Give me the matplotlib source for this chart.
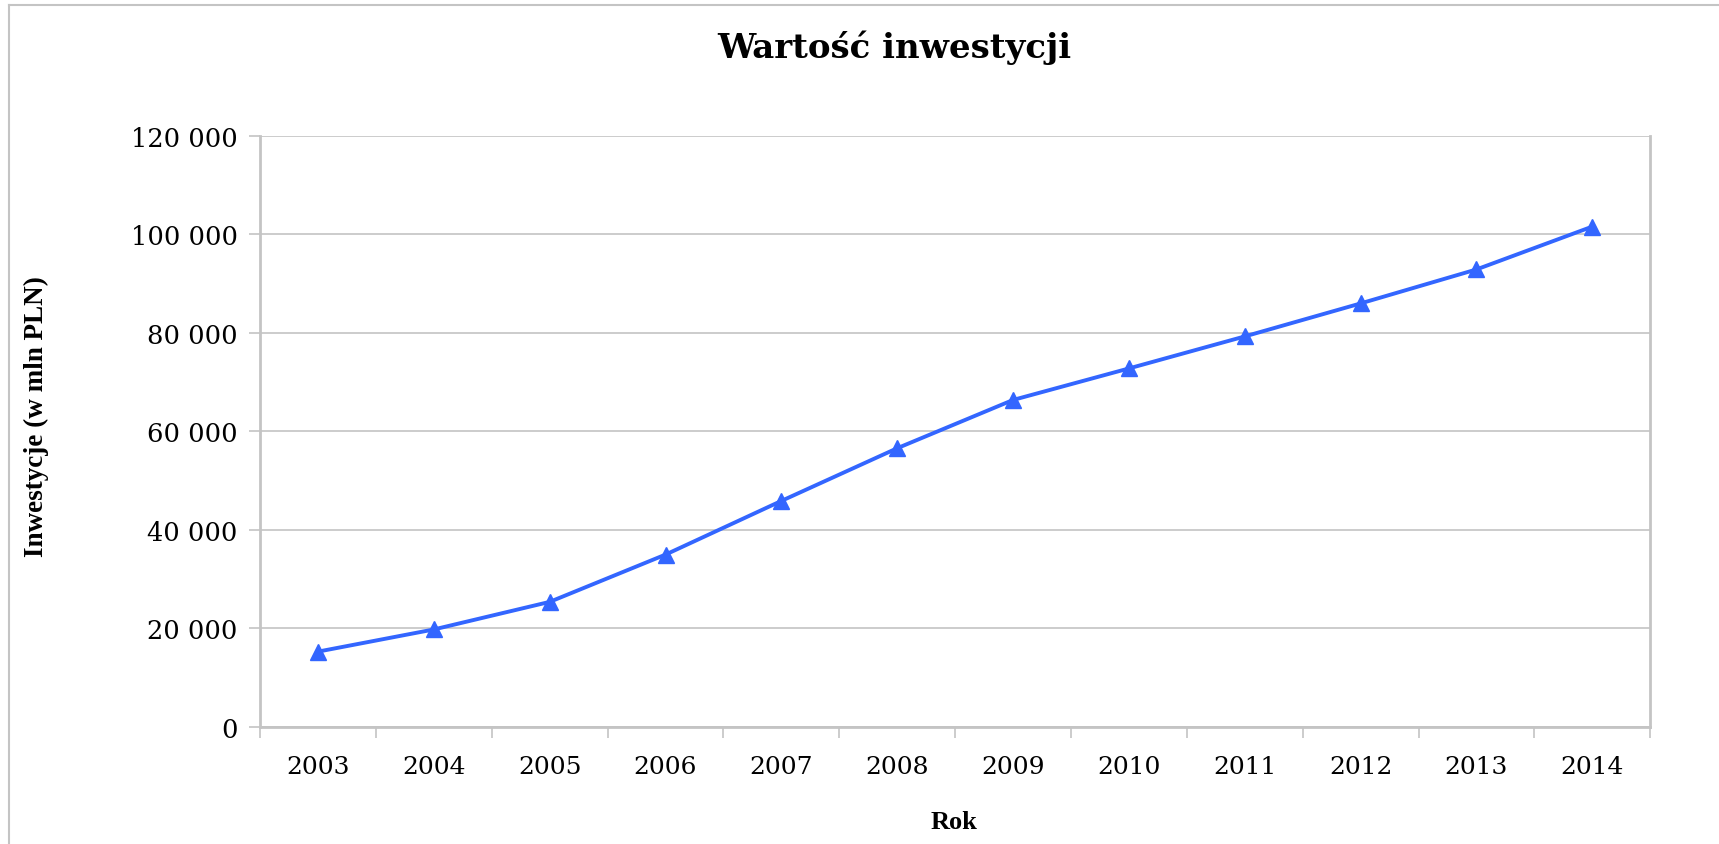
#!/usr/bin/env python3

import matplotlib
matplotlib.use("Agg")
import matplotlib.pyplot as plt
from matplotlib.ticker import FuncFormatter, FixedLocator

# Data
years = ['2003', '2004', '2005', '2006', '2007', '2008',
         '2009', '2010', '2011', '2012', '2013', '2014']
investments = [15300, 19800, 25400, 35000, 45900, 56600,
               66400, 72800, 79300, 86000, 92900, 101600]
y_ticks = [0, 20000, 40000, 60000, 80000, 100000, 120000]

title = 'Wartość inwestycji'
x_label = 'Rok'
y_label = 'Inwestycje (w mln PLN)'

plt.rcParams['font.family'] = ['DejaVu Serif', 'Liberation Serif']

grey = '#c4c4c4'
blue = '#3366ff'

fig = plt.figure(figsize=(17.19, 8.45), dpi=100)
ax = fig.add_axes([0.1513, 0.1385, 0.8087, 0.6994])

x = list(range(len(years)))
ax.plot(x, investments, color=blue, linewidth=2.8, marker='^',
        markersize=12, zorder=3)

ax.set_xlim(-0.5, len(years) - 0.5)
ax.set_ylim(0, 120000)
ax.set_yticks(y_ticks)
ax.yaxis.set_major_formatter(FuncFormatter(lambda v, p: f'{int(v):,}'.replace(',', ' ')))
ax.set_xticks(x)
ax.set_xticklabels(years)
ax.xaxis.set_minor_locator(FixedLocator([i - 0.5 for i in range(len(years) + 1)]))

ax.grid(axis='y', color=grey, linewidth=1.2)
ax.set_axisbelow(True)

for side in ['left', 'bottom', 'right']:
    ax.spines[side].set_color(grey)
    ax.spines[side].set_linewidth(2)
ax.spines['top'].set_visible(False)

ax.tick_params(axis='x', which='major', length=0, pad=20, labelsize=18)
ax.tick_params(axis='x', which='minor', length=8, width=1.2, color=grey)
ax.tick_params(axis='y', length=8, width=1.2, color=grey, pad=8, labelsize=18.5)

fig.text(0.52, 0.943, title, ha='center', va='center',
         fontsize=24.5, fontweight='bold')
fig.text(0.555, 0.027, x_label, ha='center', va='center',
         fontsize=19, fontweight='bold', family='Liberation Serif')
fig.text(0.021, 0.507, y_label, ha='center', va='center', rotation=90,
         fontsize=19.5, fontweight='bold', family='Liberation Serif')

# outer chart-area border (only left and top visible in reference)
fig.add_artist(plt.Line2D([0.0055, 0.0055], [0.0, 0.993], transform=fig.transFigure,
                          color=grey, linewidth=1.5))
fig.add_artist(plt.Line2D([0.0055, 1.0], [0.993, 0.993], transform=fig.transFigure,
                          color=grey, linewidth=1.5))

fig.savefig('out.png', dpi=100, facecolor='white')
